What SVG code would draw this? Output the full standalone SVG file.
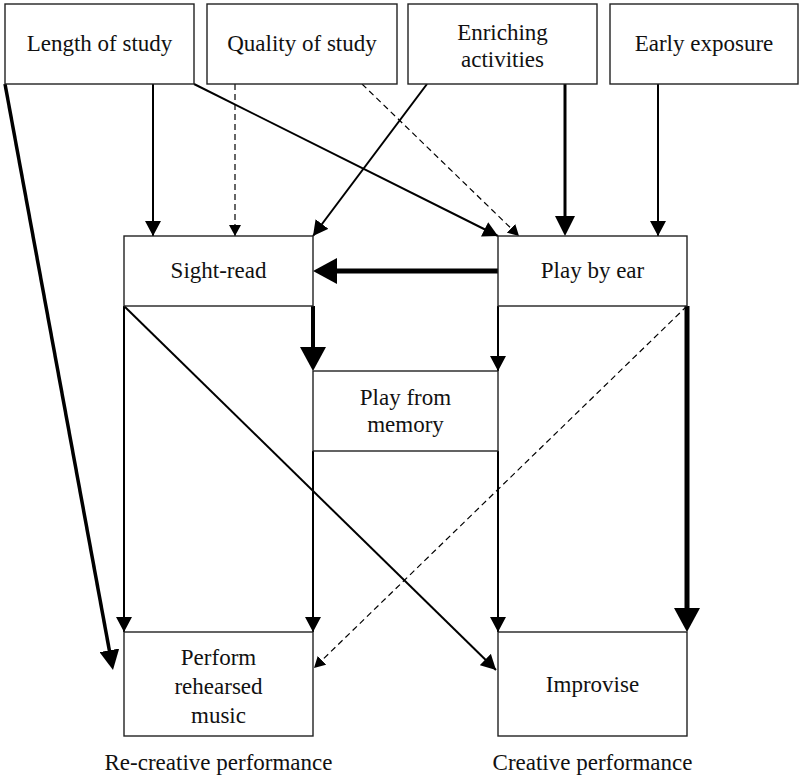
<svg xmlns="http://www.w3.org/2000/svg" width="800" height="777" viewBox="0 0 800 777">
<style>
.box{fill:#fff;stroke:#222;stroke-width:1.4}
.t{font-family:'Liberation Serif','Times New Roman','DejaVu Serif',serif;font-size:23px;fill:#111;text-anchor:middle}
.c{fill:none;stroke:#000;stroke-width:2}
.dash{fill:none;stroke:#000;stroke-width:1.2;stroke-dasharray:6 4}
</style>
<defs>
<marker id="m" markerUnits="userSpaceOnUse" markerWidth="16" markerHeight="16" refX="15" refY="8" orient="auto"><path d="M0,0 L15,8 L0,16 z" fill="#000"/></marker>
<marker id="d" markerUnits="userSpaceOnUse" markerWidth="12" markerHeight="12" refX="11" refY="6" orient="auto"><path d="M0,0 L11,6 L0,12 z" fill="#000"/></marker>
<marker id="t" markerUnits="userSpaceOnUse" markerWidth="20" markerHeight="20" refX="14" refY="10" orient="auto"><path d="M0,0 L20,10 L0,20 z" fill="#000"/></marker>
<marker id="b" markerUnits="userSpaceOnUse" markerWidth="24" markerHeight="26" refX="16" refY="13" orient="auto"><path d="M0,0 L24,13 L0,26 z" fill="#000"/></marker>
</defs>
<rect width="800" height="777" fill="#fff"/>
<g id="connectors">
<path class="c" style="stroke-width:3.5" d="M5,84 L111.9,664.1" marker-end="url(#t)"/>
<path class="c" d="M153,84 V236" marker-end="url(#m)"/>
<path class="c" d="M194,84 L498,236" marker-end="url(#m)"/>
<path class="dash" d="M235,84 V236" marker-end="url(#d)"/>
<path class="dash" d="M362,84 L519,236" marker-end="url(#d)"/>
<path class="c" d="M427,84 L313,236" marker-end="url(#m)"/>
<path class="c" style="stroke-width:3" d="M565,84 V230" marker-end="url(#t)"/>
<path class="c" d="M658,84 V236" marker-end="url(#m)"/>
<path class="c" style="stroke-width:5" d="M498,271 H321" marker-end="url(#b)"/>
<path class="c" style="stroke-width:4" d="M313,306 V363" marker-end="url(#b)"/>
<path class="c" d="M498,306 V371" marker-end="url(#m)"/>
<path class="c" d="M124,306 V632" marker-end="url(#m)"/>
<path class="c" d="M124,306 L496,670" marker-end="url(#m)"/>
<path class="c" d="M313,451 V632" marker-end="url(#m)"/>
<path class="c" d="M498,451 V632" marker-end="url(#m)"/>
<path class="c" style="stroke-width:5" d="M687,306 V624" marker-end="url(#b)"/>
<path class="dash" d="M687,306 L314,668" marker-end="url(#d)"/>
</g>
<g id="length"><rect class="box" x="5" y="4" width="189" height="80"/><text class="t" x="99.5" y="51">Length of study</text></g>
<g id="quality"><rect class="box" x="207" y="4" width="190" height="80"/><text class="t" x="302" y="51">Quality of study</text></g>
<g id="enriching"><rect class="box" x="408" y="4" width="189" height="80"/><text class="t" x="502.5" y="40">Enriching</text><text class="t" x="502.5" y="67">activities</text></g>
<g id="early"><rect class="box" x="610" y="4" width="188" height="80"/><text class="t" x="704" y="51">Early exposure</text></g>
<g id="sightread"><rect class="box" x="124" y="236" width="189" height="70"/><text class="t" x="218.5" y="278">Sight-read</text></g>
<g id="playbyear"><rect class="box" x="498" y="236" width="189" height="70"/><text class="t" x="592.5" y="278">Play by ear</text></g>
<g id="memory"><rect class="box" x="313" y="371" width="185" height="80"/><text class="t" x="405.5" y="405">Play from</text><text class="t" x="405.5" y="432">memory</text></g>
<g id="perform"><rect class="box" x="124" y="632" width="189" height="104"/><text class="t" x="218.5" y="665">Perform</text><text class="t" x="218.5" y="694">rehearsed</text><text class="t" x="218.5" y="723">music</text></g>
<g id="improvise"><rect class="box" x="498" y="632" width="189" height="104"/><text class="t" x="592.5" y="692">Improvise</text></g>
<g id="labels"><text class="t" x="218.5" y="770">Re-creative performance</text><text class="t" x="592.5" y="770">Creative performance</text></g>
</svg>
